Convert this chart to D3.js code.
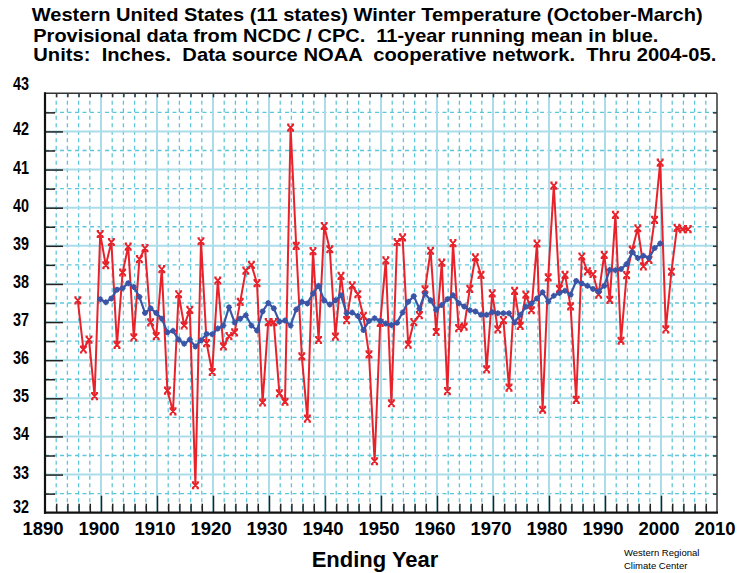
<!DOCTYPE html>
<html><head><meta charset="utf-8">
<script src="https://cdn.jsdelivr.net/npm/d3@7"></script>
<style>
html,body{margin:0;padding:0;background:#fff;}
svg{display:block;}
text{font-family:"Liberation Sans",Arial,Helvetica,sans-serif;}
</style></head>
<body>
<svg id="chart" width="739" height="573"></svg>
<script>
// ---------- data ----------
const years = d3.range(1896, 2006);
const temps = [
 37.57,36.28,36.54,35.06,39.31,38.49,39.10,36.40,38.30,38.98,
 36.60,38.65,38.94,36.99,36.63,38.39,35.20,34.66,37.73,36.91,
 37.32,32.72,39.12,36.45,35.69,38.09,36.36,36.63,36.73,37.53,
 38.35,38.50,38.02,34.89,37.00,37.00,35.13,34.91,42.10,39.00,
 36.10,34.47,38.86,36.53,39.52,38.91,36.62,38.21,37.05,37.96,
 37.73,37.16,36.15,33.35,36.98,38.62,34.87,39.10,39.22,36.41,
 37.00,37.18,37.86,38.87,36.74,38.56,35.19,39.07,36.84,36.88,
 37.87,38.70,38.24,35.76,37.75,36.81,37.05,35.28,37.82,36.90,
 37.72,37.31,39.06,34.70,38.17,40.58,37.87,38.24,37.41,34.96,
 38.72,38.33,38.26,37.72,38.76,37.58,39.81,36.51,38.23,38.90,
 39.46,38.46,38.63,39.68,41.18,36.81,38.32,39.47,39.44,39.44
];
const meanYears = d3.range(1900, 2001);
const meanTemps = [
 37.60,37.52,37.62,37.85,37.89,38.02,37.92,37.66,37.24,37.36,
 37.24,37.09,36.73,36.77,36.54,36.43,36.54,36.36,36.52,36.69,
 36.68,36.83,36.91,37.39,36.99,37.09,37.18,36.91,36.78,37.28,
 37.50,37.36,37.01,37.04,36.91,37.33,37.53,37.49,37.75,37.95,
 37.57,37.46,37.57,37.70,37.23,37.25,37.16,36.79,37.03,37.10,
 37.03,36.96,36.92,36.98,37.25,37.53,37.68,37.35,37.75,37.57,
 37.32,37.45,37.60,37.70,37.50,37.41,37.31,37.28,37.19,37.19,
 37.26,37.23,37.23,37.23,36.99,37.19,37.40,37.49,37.62,37.78,
 37.54,37.69,37.76,37.82,37.72,38.08,38.01,37.95,37.87,37.80,
 37.95,38.37,38.36,38.39,38.52,38.83,38.68,38.74,38.68,38.94,
 39.06
];
const xTicks = d3.range(1890, 2011, 10);
const yTicks = d3.range(32, 44, 1);
const titleLines = [
 "Western United States (11 states) Winter Temperature (October-March)",
 "Provisional data from NCDC / CPC.  11-year running mean in blue.",
 "Units:  Inches.  Data source NOAA  cooperative network.  Thru 2004-05."
];
const xTitle = "Ending Year";
const credit = ["Western Regional", "Climate Center"];

// ---------- layout ----------
const svg = d3.select("#chart");
const L = 45, R = 717, T = 93.3, B = 512.7;
const x = d3.scaleLinear().domain([1890, 2010]).range([L, R]);
const y = d3.scaleLinear().domain([32, 43]).range([B, T]);

const RED = "#e8222b", BLUE = "#3b55a6";
const GRID_SOLID = "#aadde9", GRID_DASH = "#5ec6da";

// grid
const g = svg.append("g");
const minorYears = d3.range(1892, 2010, 2).filter(v => v % 10 !== 0);
const halfVals = d3.range(32.5, 43, 1);
g.selectAll("line.vd").data(minorYears).join("line")
  .attr("x1", d => x(d)).attr("x2", d => x(d)).attr("y1", T).attr("y2", B)
  .attr("stroke", GRID_DASH).attr("stroke-width", 1.3).attr("stroke-dasharray", "4,3.5");
g.selectAll("line.hd").data(halfVals).join("line")
  .attr("y1", d => y(d)).attr("y2", d => y(d)).attr("x1", L).attr("x2", R)
  .attr("stroke", GRID_DASH).attr("stroke-width", 1.3).attr("stroke-dasharray", "4,3.5");
g.selectAll("line.vs").data(xTicks.filter(v => v > 1890 && v < 2010)).join("line")
  .attr("x1", d => x(d)).attr("x2", d => x(d)).attr("y1", T).attr("y2", B)
  .attr("stroke", GRID_SOLID).attr("stroke-width", 2);
g.selectAll("line.hs").data(yTicks.filter(v => v > 32 && v < 43)).join("line")
  .attr("y1", d => y(d)).attr("y2", d => y(d)).attr("x1", L).attr("x2", R)
  .attr("stroke", GRID_SOLID).attr("stroke-width", 2);

// axes
function styleAxis(sel, color, w) {
  sel.select(".domain").remove();
  sel.selectAll(".tick line").attr("stroke", color).attr("stroke-width", w);
}
// left
svg.append("g").attr("transform", `translate(${L},0)`)
  .call(d3.axisLeft(y).tickValues(halfVals).tickSize(-10).tickFormat(""))
  .call(s => styleAxis(s, "#222", 1.5));
svg.append("g").attr("transform", `translate(${L},0)`)
  .call(d3.axisLeft(y).tickValues(yTicks.filter(v => v > 32 && v < 43)).tickSize(-18).tickFormat(""))
  .call(s => styleAxis(s, "#222", 1.5));
// left labels
svg.append("g").selectAll("text").data(yTicks).join("text")
  .attr("x", 21).attr("y", d => y(d) + (d === 43 ? -3 : d === 32 ? 0.5 : 4))
  .attr("text-anchor", "middle").attr("font-size", 17.5).attr("font-weight", "bold")
  .attr("textLength", 16).attr("lengthAdjust", "spacingAndGlyphs")
  .text(d => d);
// bottom
svg.append("g").attr("transform", `translate(0,${B})`)
  .call(d3.axisTop(x).tickValues(minorYears).tickSize(9).tickFormat(""))
  .call(s => styleAxis(s, "#222", 1.5));
svg.append("g").attr("transform", `translate(0,${B})`)
  .call(d3.axisTop(x).tickValues(xTicks.filter(v => v > 1890 && v < 2010)).tickSize(17).tickFormat(""))
  .call(s => styleAxis(s, "#222", 1.5));
svg.append("g").selectAll("text").data(xTicks).join("text")
  .attr("x", d => x(d) - 2).attr("y", B + 22.5)
  .attr("text-anchor", "middle").attr("font-size", 18.5).attr("font-weight", "bold")
  .text(d => d);
// top
svg.append("g").attr("transform", `translate(0,${T})`)
  .call(d3.axisBottom(x).tickValues(d3.range(1892, 2010, 2)).tickSize(4).tickFormat(""))
  .call(s => styleAxis(s, "#333", 1.5));
// right
svg.append("g").attr("transform", `translate(${R},0)`)
  .call(d3.axisRight(y).tickValues(d3.range(32.5, 43, 0.5)).tickSize(-4).tickFormat(""))
  .call(s => styleAxis(s, "#333", 1.5));

// frame
svg.append("line").attr("x1", L).attr("x2", R).attr("y1", T).attr("y2", T).attr("stroke", "#333").attr("stroke-width", 1.5);
svg.append("line").attr("x1", R).attr("x2", R).attr("y1", T).attr("y2", B).attr("stroke", "#333").attr("stroke-width", 1.5);
svg.append("line").attr("x1", L).attr("x2", L).attr("y1", T - 1).attr("y2", B + 1).attr("stroke", "#111").attr("stroke-width", 2.2);
svg.append("line").attr("x1", L - 1).attr("x2", R + 1).attr("y1", B).attr("y2", B).attr("stroke", "#111").attr("stroke-width", 2.2);

// series
const redData = years.map((yr, i) => [yr, temps[i]]);
const blueData = meanYears.map((yr, i) => [yr, meanTemps[i]]);
const line = d3.line().x(d => x(d[0]) - 0.8).y(d => y(d[1]));

svg.append("path").datum(redData).attr("d", line)
  .attr("fill", "none").attr("stroke", RED).attr("stroke-width", 2).attr("stroke-linejoin", "round");
svg.append("g").selectAll("path").data(redData).join("path")
  .attr("transform", d => `translate(${x(d[0]) - 0.8},${y(d[1])})`)
  .attr("d", "M-3,-3L3,3M3,-3L-3,3M-3.5,-3.2H-1.2M1.2,-3.2H3.5M-3.5,3.2H-1.2M1.2,3.2H3.5")
  .attr("stroke", RED).attr("stroke-width", 1.8).attr("fill", "none");

svg.append("path").datum(blueData).attr("d", line)
  .attr("fill", "none").attr("stroke", BLUE).attr("stroke-width", 2.2).attr("stroke-linejoin", "round");
svg.append("g").selectAll("path").data(blueData).join("path")
  .attr("transform", d => `translate(${x(d[0]) - 0.8},${y(d[1])})`)
  .attr("d", "M-3,0H3M0,-3V3M-2,-2L2,2M2,-2L-2,2")
  .attr("stroke", BLUE).attr("stroke-width", 1.6).attr("fill", "none");

// titles
const tl = [{x: 31.7, y: 21, w: 671}, {x: 33.3, y: 42, w: 625}, {x: 33.3, y: 61, w: 683}];
svg.append("g").selectAll("text").data(titleLines).join("text")
  .attr("x", (d, i) => tl[i].x).attr("y", (d, i) => tl[i].y)
  .attr("font-size", 18.5).attr("font-weight", "bold")
  .style("white-space", "pre")
  .attr("textLength", (d, i) => tl[i].w).attr("lengthAdjust", "spacingAndGlyphs")
  .text(d => d);

svg.append("text").attr("x", 375).attr("y", 567).attr("text-anchor", "middle")
  .attr("font-size", 22).attr("font-weight", "bold").text(xTitle);
svg.append("g").selectAll("text").data(credit).join("text")
  .attr("x", 624).attr("y", (d, i) => 556 + i * 13)
  .attr("font-size", 9.5).text(d => d);
</script>
</body></html>
